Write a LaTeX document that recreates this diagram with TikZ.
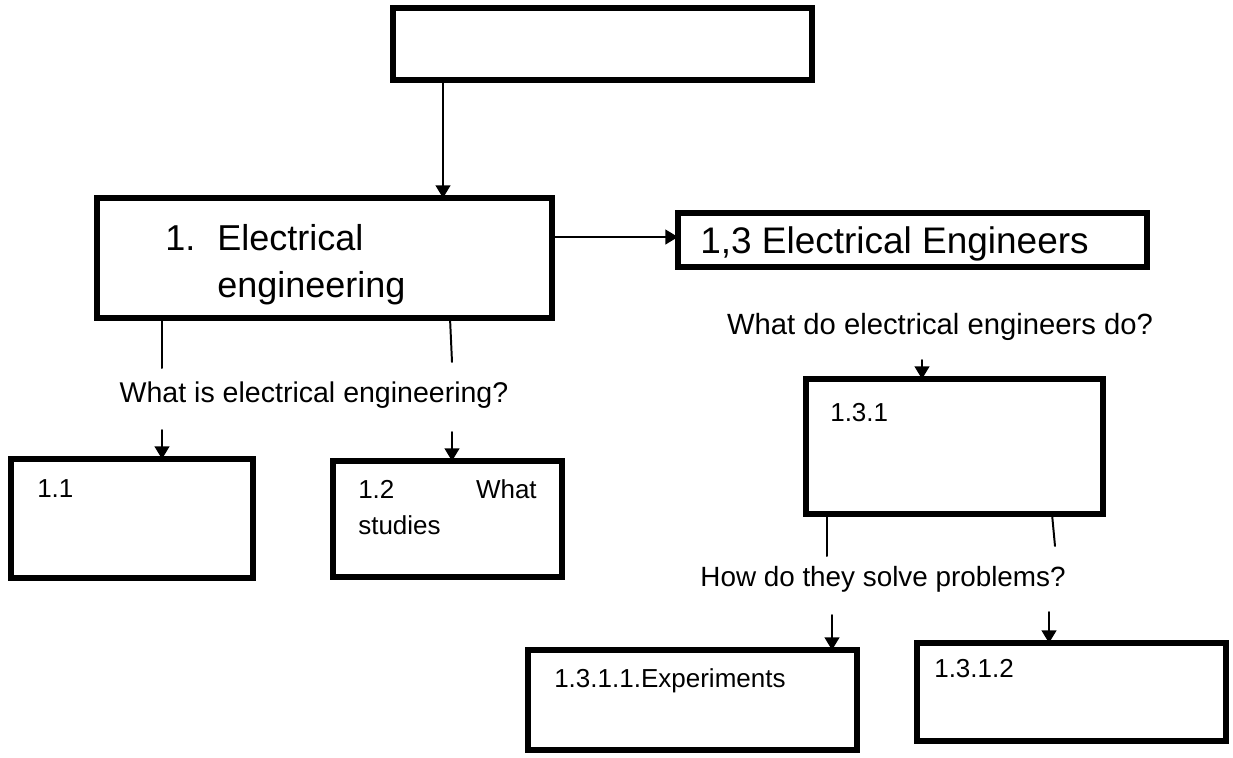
\documentclass[tikz,border=0pt]{standalone}
\usepackage{fontspec}
\setmainfont{Liberation Sans}
\usetikzlibrary{arrows.meta}

\begin{document}
\begin{tikzpicture}[>={Triangle[length=9pt,width=10.5pt]},line cap=round,
  box/.style={draw,line width=3.6pt,inner sep=0pt,outer sep=0pt},
  big/.style={font=\fontsize{25.6}{30}\selectfont,inner sep=0pt},
  mid/.style={font=\fontsize{20.3}{24}\selectfont,inner sep=0pt},
  small/.style={font=\fontsize{18.5}{22}\selectfont,inner sep=0pt},
  link/.style={line width=1.4pt}]
\useasboundingbox (0,0) rectangle (30.825,-18.925);
% boxes
\node[box,minimum width=10.475cm,minimum height=1.8cm] (top) at (15.0625,-1.1) {};
\node[box,minimum width=11.375cm,minimum height=3cm] (ee) at (8.1125,-6.45) {};
\node[box,minimum width=11.725cm,minimum height=1.35cm] (eng) at (22.8125,-6) {};
\node[box,minimum width=6.05cm,minimum height=2.975cm] (b11) at (3.3,-12.9625) {};
\node[box,minimum width=5.725cm,minimum height=2.9cm] (b12) at (11.1875,-12.975) {};
\node[box,minimum width=7.425cm,minimum height=3.375cm] (b131) at (23.8625,-11.1625) {};
\node[box,minimum width=8.225cm,minimum height=2.5cm] (b1311) at (17.3125,-17.5) {};
\node[box,minimum width=7.725cm,minimum height=2.45cm] (b1312) at (26.7875,-17.3) {};
% texts in boxes
\node[big,anchor=base west] (eenum) at (4.125,-6.25) {1.};
\node[big,anchor=base west] (eeline1) at (5.425,-6.25) {Electrical};
\node[big,anchor=base west] (eeline2) at (5.425,-7.425) {engineering};
\node[big,font=\fontsize{26.3}{30}\selectfont,anchor=base west] (engtxt) at (17.5,-6.325) {1,3 Electrical Engineers};
\node[small,anchor=base west] (t11) at (0.925,-12.425) {1.1};
\node[small,anchor=base west] (t12) at (8.95,-12.45) {1.2};
\node[small,anchor=base east] (t12b) at (13.425,-12.45) {What};
\node[small,anchor=base west] (t12c) at (8.95,-13.35) {studies};
\node[small,anchor=base west] (t131) at (20.75,-10.525) {1.3.1};
\node[small,anchor=base west] (t1311) at (13.85,-17.175) {1.3.1.1.Experiments};
\node[small,anchor=base west] (t1312) at (23.35,-16.925) {1.3.1.2};
% questions
\node[mid,anchor=base] (q1) at (7.85,-10.05) {What is electrical engineering?};
\node[mid,font=\fontsize{20.8}{24}\selectfont,anchor=base] (q2) at (23.5,-8.35) {What do electrical engineers do?};
\node[mid,font=\fontsize{19.8}{24}\selectfont,anchor=base] (q3) at (22.075,-14.65) {How do they solve problems?};
% free ends
\coordinate (l1) at (4.05,-9.2);
\coordinate (l2) at (11.3,-9.05);
\coordinate (a11) at (4.05,-10.75);
\coordinate (a12) at (11.3,-10.8);
\coordinate (a131) at (23.05,-9);
\coordinate (l3) at (20.675,-13.9);
\coordinate (l4) at (26.375,-13.65);
\coordinate (a1311) at (20.8,-15.375);
\coordinate (a1312) at (26.225,-15.3);
% connectors
\draw[link,->] (top.south -| 11.075,0) -- (ee.north -| 11.075,0);
\draw[link,->] (ee.east |- 0,-5.925) -- (eng.west |- 0,-5.925);
\draw[link] (ee.south -| l1) -- (l1);
\draw[link] (ee.south -| 11.25,0) -- (l2);
\draw[link,->] (a11) -- (b11.north -| a11);
\draw[link,->] (a12) -- (b12.north -| a12);
\draw[link,->] (a131) -- (b131.north -| a131);
\draw[link] (b131.south -| l3) -- (l3);
\draw[link] (b131.south -| 26.3,0) -- (l4);
\draw[link,->] (a1311) -- (b1311.north -| a1311);
\draw[link,->] (a1312) -- (b1312.north -| a1312);
\end{tikzpicture}
\end{document}
